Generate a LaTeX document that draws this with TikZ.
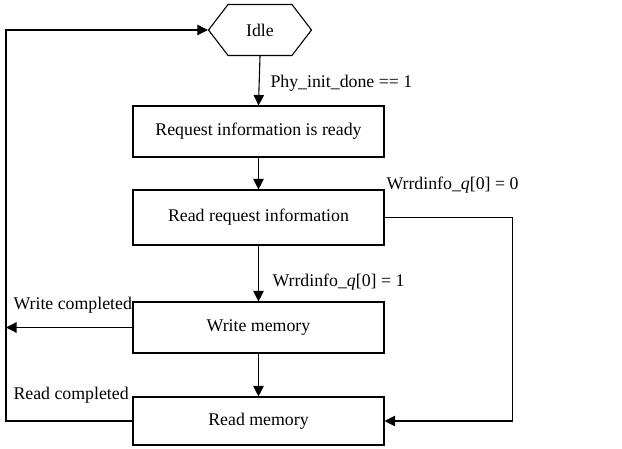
\documentclass[tikz,border=0pt]{standalone}
\usepackage{fontspec}
\setmainfont{Liberation Serif}
\usetikzlibrary{arrows.meta,shapes.symbols}
\begin{document}
\begin{tikzpicture}[x=1pt,y=-1pt,
  font=\fontsize{17.8}{20}\selectfont,
  line width=1.1pt,
  state/.style={draw, minimum width=251pt, inner sep=0pt},
  flow/.style={-{Triangle[length=10.5pt,width=10.5pt]}},
  lbl/.style={anchor=west, inner sep=0pt}]
\useasboundingbox (0,0) rectangle (622,449);

% states
\node[draw, shape=signal, signal to=west and east, signal pointer angle=105,
      minimum width=103pt, minimum height=51pt, inner sep=0pt] (idle) at (260,30) {Idle};
\node[state, minimum height=51pt] (req)   at (258.5,131.5) {Request information is ready};
\node[state, minimum height=55pt] (rdreq) at (258.5,217.5) {Read request information};
\node[state, minimum height=51pt] (wmem)  at (258.5,327.5) {Write memory};
\node[state, minimum height=48pt] (rmem)  at (258.5,421)   {Read memory};

% return points on the left bus
\coordinate (wdone) at (6,327.5);
\coordinate (bus)   at (6,30);

% transitions
\draw[flow] (idle.south) -- (req.north);
\draw[flow] (req.south) -- (rdreq.north);
\draw[flow] (rdreq.south) -- (wmem.north);
\draw[flow] (wmem.south) -- (rmem.north);
\draw[flow] (rdreq.east) -- ++(128,0) |- (rmem.east);
\draw[flow] (wmem.west) -- (wdone);
\draw[flow] (rmem.west) -| (bus) -- (idle.west);

% transition labels
\node[lbl] (l1) at (270,83)  {Phy\_init\_done == 1};
\node[lbl] (l2) at (386,185) {Wrrdinfo\_\textit{q}[0] = 0};
\node[lbl] (l3) at (272,282) {Wrrdinfo\_\textit{q}[0] = 1};
\node[lbl] (l4) at (13,305)  {Write completed};
\node[lbl] (l5) at (13,395)  {Read completed};
\end{tikzpicture}
\end{document}
